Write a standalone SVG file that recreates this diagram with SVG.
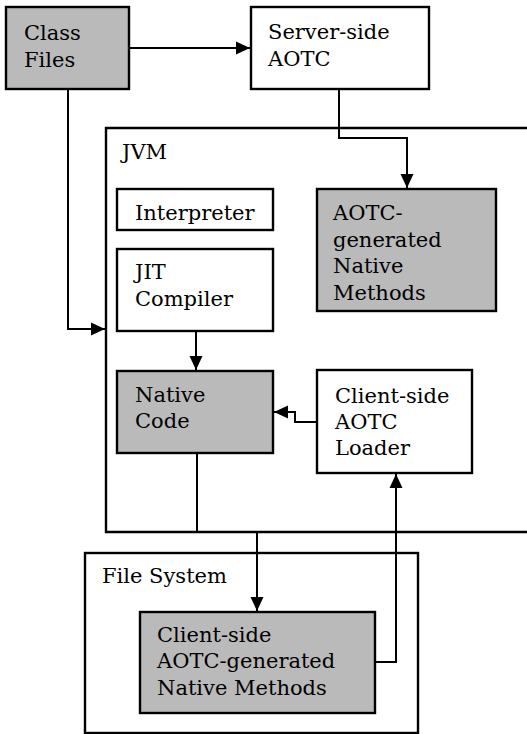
<svg xmlns="http://www.w3.org/2000/svg" width="527" height="734" viewBox="0 0 527 734">
<style>
.box{fill:#fff;stroke:#000;stroke-width:2.4}
.shade{fill:#bababa;stroke:#000;stroke-width:2.4}
.t{font-family:"DejaVu Serif","Liberation Serif",serif;font-size:21px;fill:#000}
.c{fill:none;stroke:#000;stroke-width:2}
</style>
<defs>
<marker id="ah" markerUnits="userSpaceOnUse" markerWidth="16" markerHeight="16" viewBox="0 0 16 16" refX="15" refY="8" orient="auto">
<path d="M1,1.5 L15,8 L1,14.5 Z" fill="#000"/>
</marker>
</defs>
<g id="jvm">
<path d="M527,128 H106 V532 H527" fill="none" stroke="#000" stroke-width="2.4"/>
<text class="t" x="122" y="159">JVM</text>
</g>
<g id="filesystem">
<rect class="box" x="85" y="553" width="333" height="180"/>
<text class="t" x="102" y="583">File System</text>
</g>
<g id="classfiles">
<rect class="shade" x="6" y="7" width="123" height="82"/>
<text class="t" x="24" y="40">Class</text>
<text class="t" x="24" y="67">Files</text>
</g>
<g id="serveraotc">
<rect class="box" x="251" y="7" width="178" height="82"/>
<text class="t" x="268" y="39">Server-side</text>
<text class="t" x="268" y="66">AOTC</text>
</g>
<g id="interpreter">
<rect class="box" x="117" y="189" width="156" height="41"/>
<text class="t" x="135" y="220">Interpreter</text>
</g>
<g id="jit">
<rect class="box" x="117" y="249" width="156" height="82"/>
<text class="t" x="135" y="279">JIT</text>
<text class="t" x="135" y="306">Compiler</text>
</g>
<g id="aotcgen">
<rect class="shade" x="317" y="189" width="179" height="122"/>
<text class="t" x="333" y="220">AOTC-</text>
<text class="t" x="333" y="247">generated</text>
<text class="t" x="333" y="273">Native</text>
<text class="t" x="333" y="300">Methods</text>
</g>
<g id="nativecode">
<rect class="shade" x="117" y="371" width="156" height="82"/>
<text class="t" x="135" y="402">Native</text>
<text class="t" x="135" y="428">Code</text>
</g>
<g id="loader">
<rect class="box" x="317" y="370" width="155" height="103"/>
<text class="t" x="335" y="403">Client-side</text>
<text class="t" x="335" y="429">AOTC</text>
<text class="t" x="335" y="455">Loader</text>
</g>
<g id="clientmethods">
<rect class="shade" x="140" y="612" width="235" height="101"/>
<text class="t" x="157" y="642">Client-side</text>
<text class="t" x="157" y="668">AOTC-generated</text>
<text class="t" x="157" y="695">Native Methods</text>
</g>
<g id="connectors">
<path class="c" d="M129,48 H250" marker-end="url(#ah)"/>
<path class="c" d="M68,89 V329 H105" marker-end="url(#ah)"/>
<path class="c" d="M339,89 V138 H407 V188" marker-end="url(#ah)"/>
<path class="c" d="M196,331 V370" marker-end="url(#ah)"/>
<path class="c" d="M317,422 H295 V412 H274" marker-end="url(#ah)"/>
<path class="c" d="M197,453 V532"/>
<path class="c" d="M257,532 V611" marker-end="url(#ah)"/>
<path class="c" d="M375,662 H396 V474" marker-end="url(#ah)"/>
</g>
</svg>
